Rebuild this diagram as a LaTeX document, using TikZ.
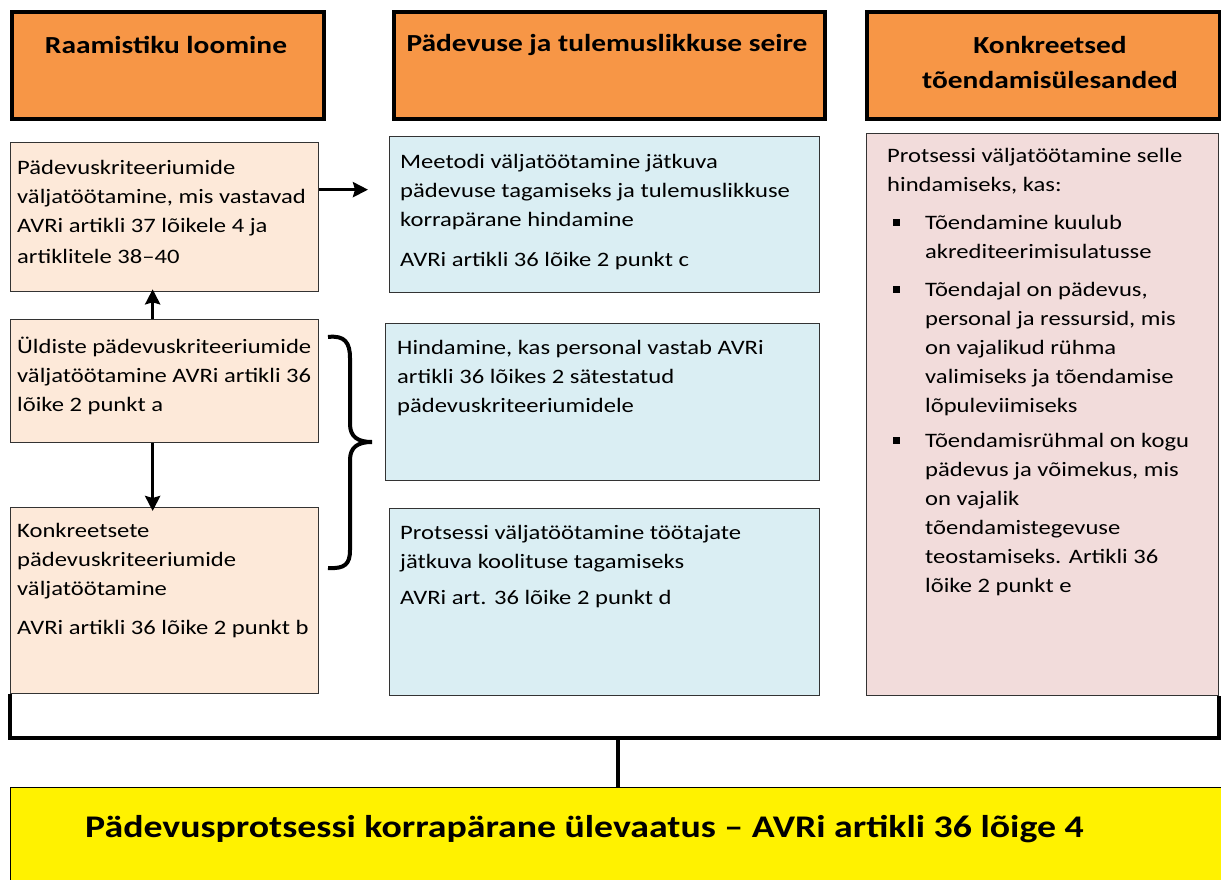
\documentclass[tikz,border=0pt]{standalone}
\usepackage{fontspec}
\setmainfont{Carlito}[FakeStretch=1.2]
\usetikzlibrary{arrows.meta}

\definecolor{hdorange}{HTML}{F79646}
\definecolor{peach}{HTML}{FDE9D9}
\definecolor{paleblue}{HTML}{DAEEF3}
\definecolor{palepink}{HTML}{F2DCDB}

\newcommand{\bul}{\makebox[38pt][l]{\hspace{6pt}\rule[3pt]{7pt}{7pt}}}
\newcommand{\ind}{\hspace*{38pt}}

\begin{document}
\begin{tikzpicture}[x=1pt,y=-1pt,
    head/.style={draw,line width=4pt,fill=hdorange,anchor=north west,inner sep=0pt},
    frame/.style={draw=black!80,line width=1.3pt,anchor=north west,inner sep=0pt},
    headtxt/.style={align=center,inner sep=0pt,font=\fontsize{24.5}{35}\selectfont\bfseries},
    txt/.style={anchor=north west,align=left,inner sep=0pt,font=\fontsize{20.5}{29}\selectfont},
    arr/.style={-{Stealth[length=15pt,width=15pt,inset=2pt]},line width=3.5pt},
    bracket/.style={line width=4pt}]
                    \useasboundingbox (0,0) rectangle (1221,880);
                    % headers
                    \node[head,minimum width=312pt,minimum height=107pt] (h1) at (10,10) {};
                    \node[head,minimum width=431pt,minimum height=107pt] (h2) at (392,10) {};
                    \node[head,minimum width=353pt,minimum height=107pt] (h3) at (865,10) {};
                    \node[headtxt] (h1t) at (166,45) {Raamistiku loomine};
                    \node[headtxt] (h2t) at (607,45) {Pädevuse ja tulemuslikkuse seire};
                    \node[headtxt] (h3t) at (1050,62) {Konkreetsed\\tõendamisülesanded};

                    % boxes
                    \node[frame,fill=peach,minimum width=308pt,minimum height=149pt] (l1) at (10,142) {};
                    \node[frame,fill=peach,minimum width=308pt,minimum height=123pt] (l2) at (10,319) {};
                    \node[frame,fill=peach,minimum width=308pt,minimum height=186pt] (l3) at (10,507) {};
                    \node[frame,fill=paleblue,minimum width=430pt,minimum height=156pt] (m1) at (389,136) {};
                    \node[frame,fill=paleblue,minimum width=434pt,minimum height=157pt] (m2) at (385,323) {};
                    \node[frame,fill=paleblue,minimum width=430pt,minimum height=187pt] (m3) at (389,508) {};
                    \node[frame,fill=palepink,minimum width=352pt,minimum height=562pt] (r) at (866,133) {};
                    \node[draw,fill=yellow,line width=1.3pt,anchor=north west,inner sep=0pt,
                          minimum width=1216pt,minimum height=98pt] (rev) at (10,787) {};

                    % texts
                    \node[txt] (l1t) at (17,160) {Pädevuskriteeriumide\\väljatöötamine, mis vastavad\\AVRi artikli 37 lõikele 4 ja\\[2pt]artiklitele 38--40};
                    \node[txt] (l2t) at (17,337) {Üldiste pädevuskriteeriumide\\väljatöötamine AVRi artikli 36\\lõike 2 punkt a};
                    \node[txt] (l3t) at (17,523) {Konkreetsete\\pädevuskriteeriumide\\väljatöötamine\\[10pt]AVRi artikli 36 lõike 2 punkt b};
                    \node[txt] (m1t) at (400,154) {Meetodi väljatöötamine jätkuva\\pädevuse tagamiseks ja tulemuslikkuse\\korrapärane hindamine\\[11pt]AVRi artikli 36 lõike 2 punkt c};
                    \node[txt] (m2t) at (397,340) {Hindamine, kas personal vastab AVRi\\artikli 36 lõikes 2 sätestatud\\pädevuskriteeriumidele};
                    \node[txt] (m3t) at (400,525) {Protsessi väljatöötamine töötajate\\jätkuva koolituse tagamiseks\\[7pt]AVRi art. 36 lõike 2 punkt d};
                    \node[txt] (rt) at (887,148) {Protsessi väljatöötamine selle\\hindamiseks, kas:\\[9pt]
                        \bul Tõendamine kuulub\\\ind akrediteerimisulatusse\\[9pt]
                        \bul Tõendajal on pädevus,\\\ind personal ja ressursid, mis\\\ind on vajalikud rühma\\\ind valimiseks ja tõendamise\\\ind lõpuleviimiseks\\[6pt]
                        \bul Tõendamisrühmal on kogu\\\ind pädevus ja võimekus, mis\\\ind on vajalik\\\ind tõendamistegevuse\\\ind teostamiseks. Artikli 36\\\ind lõike 2 punkt e};
                    \node[anchor=west,inner sep=0pt,font=\fontsize{31.5}{36}\selectfont\bfseries] (revt) at (85,829)
                        {Pädevusprotsessi korrapärane ülevaatus -- AVRi artikli 36 lõige 4};

                    % connectors
                    \draw[arr,shorten >=-3pt] ([xshift=-12pt]l2.north) -- ([xshift=-12pt]l1.south);
                    \draw[arr,shorten >=-4pt] ([xshift=-12pt]l2.south) -- ([xshift=-12pt]l3.north);
                    \draw[arr,shorten >=21pt] ([yshift=27.5pt]l1.east) -- ([yshift=27.5pt]l1.east -| m1.west);

                    % brace
                    \coordinate (tip) at (372,442);
                    \draw[bracket] (328,337) .. controls (345,335) and (350,343) .. (350,358) -- (350,424)
                        .. controls (350,437) and (358,442) .. (tip);
                    \draw[bracket] (tip) .. controls (358,442) and (350,447) .. (350,460) -- (350,550)
                        .. controls (350,564) and (345,569) .. (328,568);

                    % bottom bracket
                    \coordinate (mid) at (618,738);
                    \draw[bracket] (l3.south west) |- (mid) -| (r.south east);
                    \draw[bracket] (mid) -- (mid |- rev.north);
\end{tikzpicture}
\end{document}
